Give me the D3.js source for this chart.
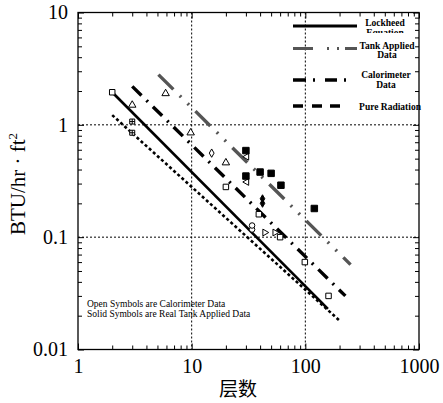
<!DOCTYPE html>
<html>
<head>
<meta charset="utf-8">
<script src="https://cdn.jsdelivr.net/npm/d3@7"></script>
<style>
  body { margin: 0; background: #fff; }
  svg { display: block; font-family: "Liberation Serif", "DejaVu Serif", serif; }
</style>
</head>
<body>
<div id="chart"></div>
<script>
// Tick labels of the two log axes
const xTicks = [1, 10, 100, 1000];
const yTicks = [0.01, 0.1, 1, 10];

// Fitted lines, endpoints [layers, BTU/hr·ft²]
const lockheedLine = [[2, 1.95], [158, 0.023]];
const pureRadLine = [[2, 1.22], [201, 0.018]];
const calorLine = [[3, 2.2], [225, 0.03]];
const tankLine = [[5.1, 2.8], [250, 0.057]];

// Open symbols (calorimeter data)
const openSquares = [[2, 1.95], [20, 0.28], [39, 0.16], [60, 0.1], [99, 0.06], [160, 0.03]];
const crossSquares = [[3, 1.07], [3, 0.85]];
const openTriangles = [[3, 1.5], [5.9, 1.9], [9.8, 0.85], [20, 0.46]];
const openDiamonds = [[15, 0.56]];
const openCircles = [[34, 0.117], [34, 0.127]];
const leftTriangles = [[30.5, 0.31], [30.5, 0.52]];
const rightTriangles = [[44, 0.11], [54, 0.11]];

// Solid symbols (real tank applied data)
const filledSquares = [[30, 0.59], [30, 0.35], [40, 0.38], [50, 0.37], [61, 0.29], [120, 0.18]];
const filledDiamonds = [[42, 0.22], [42, 0.2]];

// Legend entries
const legendNames = [["Lockheed", "Equation"], ["Tank Applied", "Data"], ["Calorimeter", "Data"], ["Pure Radiation"]];

let
  w = 443, h = 403,
  pL = 78, pR = 419, pT = 12.5, pB = 349.5,
  x = d3.scaleLog().domain([1, 1000]).range([pL, pR]),
  y = d3.scaleLog().domain([0.01, 10]).range([pB, pT]),
  line = d3.line().x(d => x(d[0])).y(d => y(d[1])),
  svg = d3.select('#chart').append('svg').attr('width', w).attr('height', h);

// Dotted grid at the inner decades
svg.append('g').selectAll('line').data([10, 100]).enter().append('line')
  .attr('x1', d => x(d)).attr('x2', d => x(d)).attr('y1', pT).attr('y2', pB)
  .attr('stroke', '#000').attr('stroke-width', 1).attr('stroke-dasharray', '2,2');
svg.append('g').selectAll('line').data([0.1, 1]).enter().append('line')
  .attr('y1', d => y(d)).attr('y2', d => y(d)).attr('x1', pL).attr('x2', pR)
  .attr('stroke', '#000').attr('stroke-width', 1).attr('stroke-dasharray', '2,2');

// Axes: inward ticks on all four sides, labels only bottom / left
const isMajor = v => Math.abs(Math.log10(v) - Math.round(Math.log10(v))) < 1e-9;
function styleAxis(g, vertical, sign) {
  g.select('.domain').remove();
  g.selectAll('.tick line').attr('stroke', '#000')
    .attr(vertical ? 'x2' : 'y2', d => sign * (isMajor(d) ? 6 : 4));
  g.selectAll('.tick text').attr('font-size', 20).attr('fill', '#000')
    .attr('font-family', '"Liberation Serif", serif');
}
svg.append('g').attr('transform', `translate(0,${pB})`)
  .call(d3.axisBottom(x).tickValues(x.ticks()).tickSize(-4).tickSizeOuter(0).tickPadding(9)
    .tickFormat(d => xTicks.includes(d) ? d : ''))
  .call(g => styleAxis(g, false, -1));
svg.append('g').attr('transform', `translate(0,${pT})`)
  .call(d3.axisTop(x).tickValues(x.ticks()).tickSize(-4).tickSizeOuter(0).tickFormat(''))
  .call(g => styleAxis(g, false, 1));
svg.append('g').attr('transform', `translate(${pL},0)`)
  .call(d3.axisLeft(y).tickValues(y.ticks()).tickSize(-4).tickSizeOuter(0).tickPadding(10)
    .tickFormat(d => yTicks.includes(d) ? d : ''))
  .call(g => styleAxis(g, true, 1));
svg.append('g').attr('transform', `translate(${pR},0)`)
  .call(d3.axisRight(y).tickValues(y.ticks()).tickSize(-4).tickSizeOuter(0).tickFormat(''))
  .call(g => styleAxis(g, true, -1));

// Frame
svg.append('rect').attr('x', pL).attr('y', pT).attr('width', pR - pL).attr('height', pB - pT)
  .attr('fill', 'none').attr('stroke', '#000').attr('stroke-width', 1.3);

// Lines
const lineStyles = [
  {d: lockheedLine, color: '#000', width: 2.6, dash: null},
  {d: pureRadLine, color: '#000', width: 2.6, dash: '3,2.5'},
  {d: calorLine, color: '#000', width: 3.4, dash: '13,7,2,7'},
  {d: tankLine, color: '#555', width: 3.4, dash: '21,9,2,9,2,9'}
];
lineStyles.forEach(s => {
  svg.append('path').datum(s.d).attr('d', line).attr('fill', 'none')
    .attr('stroke', s.color).attr('stroke-width', s.width)
    .attr('stroke-dasharray', s.dash);
});

// Symbols
function addSymbols(data, type, size, filled, rotate) {
  svg.append('g').selectAll('path').data(data).enter().append('path')
    .attr('d', d3.symbol().type(type).size(size))
    .attr('transform', d => `translate(${x(d[0])},${y(d[1])}) rotate(${rotate || 0})`)
    .attr('fill', filled ? '#000' : '#fff').attr('stroke', '#000').attr('stroke-width', 1);
}
addSymbols(openSquares, d3.symbolSquare, 30, false);
addSymbols(crossSquares, d3.symbolSquare, 25, false);
svg.append('g').selectAll('path').data(crossSquares).enter().append('path')
  .attr('d', d => `M${x(d[0]) - 2.5},${y(d[1])}h5M${x(d[0])},${y(d[1]) - 2.5}v5`)
  .attr('stroke', '#000').attr('stroke-width', 1);
addSymbols(openTriangles, d3.symbolTriangle, 24, false);
addSymbols(openDiamonds, d3.symbolDiamond, 20, false);
addSymbols(openCircles, d3.symbolCircle, 24, false);
addSymbols(leftTriangles, d3.symbolTriangle, 20, false, -90);
addSymbols(rightTriangles, d3.symbolTriangle, 20, false, 90);
addSymbols(filledSquares, d3.symbolSquare, 42, true);
addSymbols(filledDiamonds, d3.symbolDiamond, 18, true);

// Legend
const legend = svg.append('g');
const legRowY = [26, 48.5, 80, 106];
const legLines = [
  {color: '#000', width: 3, segs: [[293, 357]]},
  {color: '#555', width: 3, segs: [[293, 313], [327, 329], [337, 339], [345, 357]]},
  {color: '#000', width: 3.5, segs: [[293, 306], [313, 315], [325, 337], [344, 346]]},
  {color: '#000', width: 3.5, segs: [[293, 303], [312, 322], [330, 340]]}
];
legLines.forEach((l, i) => {
  l.segs.forEach(s => legend.append('line')
    .attr('x1', s[0]).attr('x2', s[1]).attr('y1', legRowY[i]).attr('y2', legRowY[i])
    .attr('stroke', l.color).attr('stroke-width', l.width));
});
svg.append('clipPath').attr('id', 'eqclip').append('rect')
  .attr('x', 300).attr('y', 0).attr('width', 140).attr('height', 33);
const legTextPos = [[[385, 26], [385, 36]], [[387, 48.5], [387, 58]], [[386, 77.5], [386, 88]], [[390, 109.5]]];
legendNames.forEach((names, i) => {
  names.forEach((t, j) => {
    legend.append('text').attr('x', legTextPos[i][j][0]).attr('y', legTextPos[i][j][1])
      .attr('text-anchor', 'middle').attr('font-size', 9.5).attr('font-weight', 'bold')
      .attr('clip-path', i === 0 && j === 1 ? 'url(#eqclip)' : null)
      .text(t);
  });
});

// Note
svg.append('text').attr('x', 87).attr('y', 307).attr('font-size', 9.5).text('Open Symbols are Calorimeter Data');
svg.append('text').attr('x', 87).attr('y', 317).attr('font-size', 9.5).text('Solid Symbols are Real Tank Applied Data');

// Axis titles
const yt = svg.append('text').attr('transform', 'translate(25,184) rotate(-90)')
  .attr('text-anchor', 'middle').attr('font-size', 21);
yt.append('tspan').text('BTU/hr · ft');
yt.append('tspan').attr('font-size', 13).attr('dy', -8).text('2');
svg.append('text').attr('x', 238).attr('y', 396).attr('text-anchor', 'middle')
  .attr('font-size', 19).attr('font-family', '"Noto Sans CJK SC", sans-serif').text('层数');
</script>
</body>
</html>
